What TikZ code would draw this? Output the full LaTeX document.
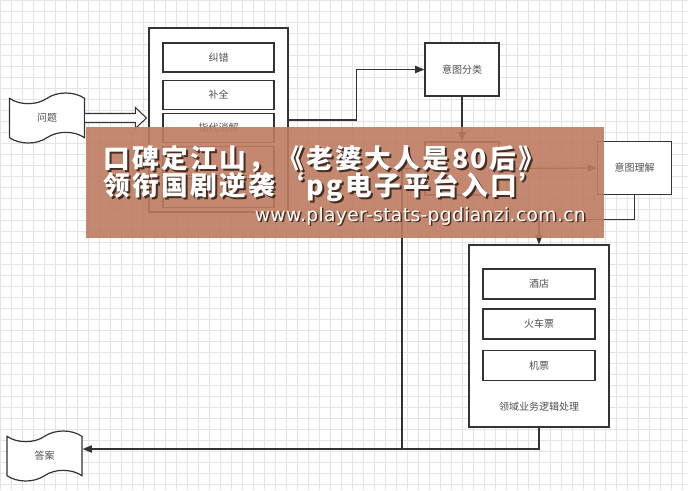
\documentclass[tikz,border=0pt]{standalone}
\usepackage{fontspec}
\setmainfont{Noto Sans CJK SC}
\newfontfamily\bannerfont[LetterSpace=9]{Noto Sans CJK SC}
\newfontfamily\webfont[LetterSpace=2]{DejaVu Sans}
\usetikzlibrary{arrows.meta,shapes.symbols,positioning,calc}

\definecolor{edgegray}{RGB}{51,51,51}
\definecolor{labelgray}{RGB}{80,80,80}
\definecolor{gridgray}{RGB}{228,228,228}
\definecolor{bannerbrown}{RGB}{189,124,96}
\definecolor{shadebrown}{RGB}{70,45,35}

\tikzset{
  gridline/.style={draw=gridgray, line width=0.4pt},
  frame/.style={draw=edgegray, line width=0.9pt, fill=white, inner sep=0pt},
  item/.style={frame, minimum width=83.25pt, minimum height=21.75pt, text=labelgray, font=\fontsize{7.5}{9}\selectfont},
  stage/.style={frame, minimum width=55.5pt, minimum height=39.75pt, text=labelgray, font=\fontsize{7.5}{9}\selectfont},
  caption/.style={inner sep=0pt, text=labelgray, font=\fontsize{7.5}{9}\selectfont},
  doc/.style={tape, draw=edgegray, line width=0.9pt, fill=white, inner sep=0pt, minimum width=56.25pt, minimum height=37.5pt, tape bend height=8pt, text=labelgray, font=\fontsize{7.5}{9}\selectfont},
  wire/.style={draw=edgegray, line width=0.9pt},
  arr/.style={wire, -{Triangle[length=7pt,width=5.5pt]}},
  flex/.style={draw=edgegray, line width=0.8pt, fill=white, line join=miter},
  slogan/.style={anchor=west, inner sep=0pt, text=white, font=\bannerfont\fontsize{20}{22}\selectfont\bfseries},
  sloganshade/.style={slogan, text=shadebrown},
  site/.style={anchor=east, inner sep=0pt, text=white, font=\webfont\fontsize{14}{16}\selectfont},
  siteshade/.style={site, text=shadebrown}
}

\begin{document}
\begin{tikzpicture}[x=0.75pt,y=0.75pt,yscale=-1]
    \useasboundingbox (0,0) rectangle (688,490);
    \fill[white] (0,0) rectangle (688,490);
    % grid
    \foreach \gx in {0,11,...,688} \draw[gridline] (\gx,0) -- (\gx,490);
    \foreach \gy in {0,11,...,490} \draw[gridline] (0,\gy) -- (688,\gy);

    % input / output
    \node[doc] (question) at (47,118) {问题};
    \node[doc] (answer) at (44.5,456) {答案};

    % preprocessing
    \node[frame, minimum width=104.25pt, minimum height=138pt] (prep) at (218.5,120) {};
    \node[item] (fix) at (218.5,57.5) {纠错};
    \node[item] (complete) at (218.5,95) {补全};
    \node[item] (coref) at (218.5,128) {指代消解};
    \node[item] (prepfour) at (218.5,161) {};
    \node[item] (prepfive) at (218.5,193) {};

    % intent
    \node[stage] (classify) at (462,69.5) {意图分类};
    \node[stage] (midstage) at (462,168.5) {};
    \node[stage] (understand) at (634.5,168) {意图理解};

    % domain logic
    \node[frame, minimum width=105pt, minimum height=136.5pt] (domain) at (539,336) {};
    \node[item, minimum width=84pt, minimum height=22.5pt] (hotel) at (539,284) {酒店};
    \node[item, minimum width=84pt, minimum height=22.5pt] (train) at (539,324) {火车票};
    \node[item, minimum width=84pt, minimum height=22.5pt] (flight) at (539,365.5) {机票};
    \node[caption] (domaincap) at (539,407) {领域业务逻辑处理};

    % connectors
    \coordinate (merge) at (402,449);
    \coordinate (turn) at (539,449);
    \coordinate (flexend) at ($(question.east -| prep.west)+(-2,0)$);
    \draw[flex] ($(question.east)+(0,-4.5)$) -- ($(flexend)+(-11,-4.5)$) -- ($(flexend)+(-11,-10.5)$)
        -- (flexend) -- ($(flexend)+(-11,10.5)$) -- ($(flexend)+(-11,4.5)$) -- ($(question.east)+(0,4.5)$);
    \draw[arr] (prep.east) -- ++(68,0) |- (classify.west);
    \draw[arr] (classify.south) -- (midstage.north);
    \draw[arr] (midstage.east) -- (understand.west);
    \draw[arr] (understand.south) -- ++(0,24) -| (domain.north);
    \draw[wire] (midstage.west) -| (merge);
    \draw[arr] (domain.south) -- (turn) -- (turn -| answer.east);

    % banner
    \fill[bannerbrown, fill opacity=0.9] (86,127) rectangle (604,238);
    \node[sloganshade] at (105,161) {口碑定江山，《老婆大人是80后》};
    \node[slogan] (sloganone) at (103,159) {口碑定江山，《老婆大人是80后》};
    \node[sloganshade] at (105,189) {领衔国剧逆袭‘pg电子平台入口’};
    \node[slogan] (slogantwo) at (103,187) {领衔国剧逆袭‘pg电子平台入口’};
    \node[siteshade] at (587.5,217.5) {www.player-stats-pgdianzi.com.cn};
    \node[site] (website) at (586,216) {www.player-stats-pgdianzi.com.cn};
\end{tikzpicture}
\end{document}
